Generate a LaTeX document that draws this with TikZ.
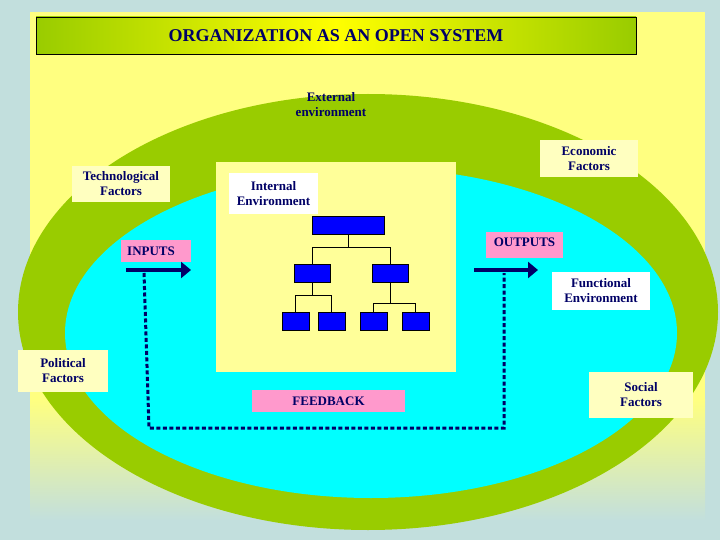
\documentclass[tikz,border=0pt]{standalone}
\usepackage{fontspec}
\setmainfont{Liberation Serif}
\usetikzlibrary{arrows.meta}
\definecolor{bgblue}{HTML}{C2DFDD}
\definecolor{ylw}{HTML}{FFFF80}
\definecolor{grn}{HTML}{99CC00}
\definecolor{cyn}{HTML}{00FFFF}
\definecolor{paley}{HTML}{FFFF99}
\definecolor{boxy}{HTML}{FFFFC0}
\definecolor{pnk}{HTML}{FF99CC}
\definecolor{navy}{HTML}{000066}
\definecolor{orgblue}{HTML}{0000FF}
\tikzset{
  lbl/.style={font=\bfseries\fontsize{13}{15}\selectfont, text=navy, align=center, inner sep=0pt},
  factor/.style={fill=boxy, draw=none},
  pinkbox/.style={fill=pnk, draw=none},
  org/.style={fill=orgblue, draw=black, line width=0.8pt},
  conn/.style={draw=black, line width=0.8pt},
  flow/.style={draw=navy, line width=4pt, -{Triangle[length=10pt,width=16pt]}},
  fb/.style={draw=navy, line width=3pt, dash pattern=on 4pt off 2.5pt}
}
\begin{document}
\begin{tikzpicture}[x=1pt,y=-1pt]
\useasboundingbox (0,0) rectangle (720,540);
\fill[bgblue] (0,0) rectangle (720,540);
\fill[ylw] (30,12) rectangle (705,400);
\shade[top color=ylw, bottom color=bgblue] (30,399) rectangle (705,520);
% title
\node[draw=black, line width=0.8pt, left color=grn, right color=grn, middle color=yellow, minimum width=600pt, minimum height=37pt, inner sep=0pt] (title) at (336,35.5) {};
\node[font=\bfseries\fontsize{18}{20}\selectfont, text=navy] (titletext) at (title) {ORGANIZATION AS AN OPEN SYSTEM};
% ellipses
\fill[grn] (368,312) ellipse [x radius=350, y radius=218];
\fill[cyn] (371,333) ellipse [x radius=306, y radius=165];
\node[lbl] (ext) at (331,105) {External\\environment};
% internal
\fill[paley] (216,162) rectangle (456,372);
\node[lbl, fill=white, minimum width=89pt, minimum height=41pt] (intenv) at (273.5,193.5) {Internal\\Environment};
% org chart
\node[org, minimum width=72pt, minimum height=18pt, inner sep=0pt] (top) at (348,225) {};
\node[org, minimum width=36pt, minimum height=18pt, inner sep=0pt] (m1) at (312,273) {};
\node[org, minimum width=36pt, minimum height=18pt, inner sep=0pt] (m2) at (390,273) {};
\node[org, minimum width=27pt, minimum height=18pt, inner sep=0pt] (b1) at (295.5,321) {};
\node[org, minimum width=27pt, minimum height=18pt, inner sep=0pt] (b2) at (331.5,321) {};
\node[org, minimum width=27pt, minimum height=18pt, inner sep=0pt] (b3) at (373.5,321) {};
\node[org, minimum width=27pt, minimum height=18pt, inner sep=0pt] (b4) at (415.5,321) {};
\draw[conn] (top.south) -- ++(0,13) -| (m1.north);
\draw[conn] (top.south) -- ++(0,13) -| (m2.north);
\draw[conn] (m1.south) -- ++(0,13) -| (b1.north);
\draw[conn] (m1.south) -- ++(0,13) -| (b2.north);
\draw[conn] (m2.south) -- ++(0,21) -| (b3.north);
\draw[conn] (m2.south) -- ++(0,21) -| (b4.north);
% inputs / outputs
\node[pinkbox, minimum width=70pt, minimum height=22pt, inner sep=0pt] (inputs) at (156,251) {};
\node[lbl, anchor=west] (inputstext) at (127,251) {INPUTS};
\node[pinkbox, minimum width=77pt, minimum height=26pt, inner sep=0pt] (outputs) at (524.5,245) {};
\node[lbl, anchor=north] (outputstext) at (524.5,238) {OUTPUTS};
\coordinate (ia) at (126,270); \coordinate (ib) at (191,270);
\coordinate (oa) at (474,270); \coordinate (ob) at (538,270);
\draw[flow] (ia) -- (ib);
\draw[flow] (oa) -- (ob);
% feedback
\coordinate (f1) at (144,273); \coordinate (f2) at (149,428);
\coordinate (f3) at (504,428); \coordinate (f4) at (504,273);
\draw[fb] (f1) -- (f2) -- (f3) -- (f4);
\node[pinkbox, lbl, minimum width=153pt, minimum height=22pt] (feedback) at (328.5,401) {FEEDBACK};
% factors
\node[factor, lbl, minimum width=98pt, minimum height=36pt] (tech) at (121,184) {Technological\\Factors};
\node[factor, lbl, minimum width=98pt, minimum height=37pt] (econ) at (589,158.5) {Economic\\Factors};
\node[lbl, fill=white, minimum width=98pt, minimum height=38pt] (func) at (601,291) {Functional\\Environment};
\node[factor, lbl, minimum width=90pt, minimum height=42pt] (pol) at (63,371) {Political\\Factors};
\node[factor, lbl, minimum width=104pt, minimum height=46pt] (soc) at (641,395) {Social\\Factors};
\end{tikzpicture}
\end{document}
